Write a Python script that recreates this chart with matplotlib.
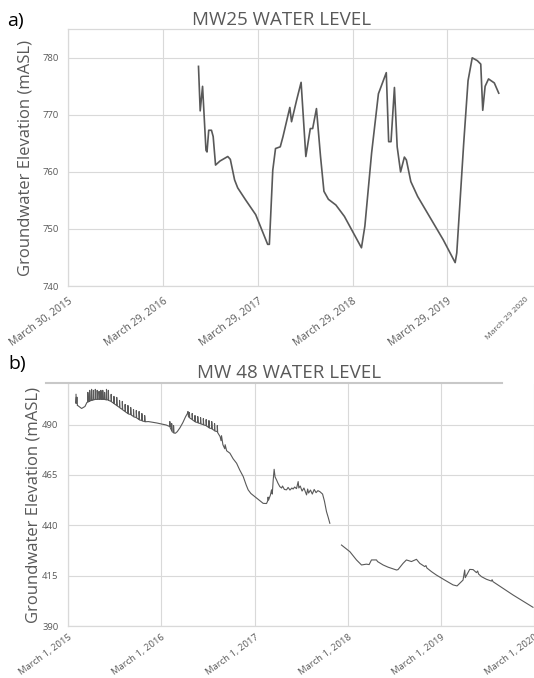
import numpy as np
import matplotlib
matplotlib.use("Agg")
import matplotlib.pyplot as plt
from matplotlib.lines import Line2D

# ---------------- data ----------------
# Panel a: MW25, x in years since March 30, 2015
a_years = [1.374, 1.392, 1.417, 1.453, 1.464, 1.482, 1.511, 1.529, 1.554, 1.600,
           1.683, 1.710, 1.755, 1.788, 1.871, 1.978, 2.104, 2.122, 2.158, 2.187,
           2.237, 2.266, 2.338, 2.356, 2.410, 2.457, 2.507, 2.554, 2.579, 2.619,
           2.662, 2.698, 2.745, 2.824, 2.914, 3.094, 3.130, 3.201, 3.273, 3.356,
           3.381, 3.406, 3.442, 3.471, 3.507, 3.547, 3.568, 3.615, 3.687, 3.957,
           4.083, 4.100, 4.173, 4.219, 4.263, 4.317, 4.353, 4.374, 4.399, 4.435,
           4.496, 4.543]
a_levels = [778.5, 770.7, 775.0, 763.8, 763.5, 767.3, 767.3, 766.2, 761.2, 761.9,
            762.7, 762.2, 758.6, 757.2, 755.1, 752.5, 747.3, 747.3, 760.3, 764.1,
            764.4, 766.2, 771.3, 768.8, 772.6, 775.7, 762.7, 767.6, 767.6, 771.1,
            762.7, 756.6, 755.2, 754.2, 752.2, 746.7, 750.5, 763.3, 773.7, 777.4,
            765.3, 765.3, 774.8, 764.4, 760.0, 762.6, 762.1, 758.3, 755.7, 748.1,
            744.1, 745.8, 765.0, 776.0, 780.0, 779.5, 778.9, 770.8, 775.0, 776.3,
            775.6, 773.8]
a_tick_years = [0, 1, 2, 3, 4]
a_tick_labels = ["March 30, 2015", "March 29, 2016", "March 29, 2017",
                 "March 29, 2018", "March 29, 2019"]
a_extra_label = "March 29 2020"
a_yticks = [740, 750, 760, 770, 780]

# Panel b: MW 48, x in years since March 1, 2015 (NaN = data gap)
b_years = [0.083, 0.083, 0.086, 0.097, 0.097, 0.100, 0.143, 0.179,
           0.200, 0.210, 0.210, 0.214, 0.230, 0.230, 0.234, 0.250, 0.250, 0.254,
           0.270, 0.270, 0.274, 0.290, 0.290, 0.294, 0.310, 0.310, 0.314,
           0.330, 0.330, 0.334, 0.350, 0.350, 0.354, 0.370, 0.370, 0.374,
           0.390, 0.390, 0.394, 0.410, 0.410, 0.414, 0.430, 0.430, 0.434,
           0.460, 0.460, 0.464, 0.490, 0.490, 0.494, 0.520, 0.520, 0.524,
           0.550, 0.550, 0.554, 0.580, 0.580, 0.584, 0.610, 0.610, 0.614,
           0.640, 0.640, 0.644, 0.670, 0.670, 0.674, 0.700, 0.700, 0.704,
           0.730, 0.730, 0.734, 0.760, 0.760, 0.764, 0.790, 0.790, 0.794,
           0.820, 0.820, 0.824, 0.860, 0.900, 0.950, 0.980, 1.050,
           1.090, 1.090, 1.094, 1.110, 1.110, 1.114, 1.130, 1.130, 1.134, 1.150,
           1.170, 1.200, 1.230, 1.260, 1.280, 1.285, 1.290,
           1.300, 1.300, 1.304, 1.330, 1.330, 1.334, 1.360, 1.360, 1.364,
           1.390, 1.390, 1.394, 1.420, 1.420, 1.424, 1.450, 1.450, 1.454,
           1.480, 1.480, 1.484, 1.510, 1.510, 1.514, 1.540, 1.540, 1.544,
           1.570, 1.570, 1.574, 1.600, 1.600, 1.604, 1.630, 1.640, 1.645,
           1.660, 1.680, 1.684, 1.700, 1.735, 1.770, 1.807, 1.840, 1.878,
           1.910, 1.931, 1.960, 2.003, 2.050, 2.092, 2.128, 2.140, 2.145,
           2.150, 2.170, 2.182, 2.190, 2.200, 2.210, 2.220, 2.236, 2.250,
           2.271, 2.290, 2.300, 2.320, 2.343, 2.360, 2.380, 2.400, 2.414,
           2.430, 2.450, 2.468, 2.475, 2.490, 2.510, 2.530, 2.558, 2.570,
           2.580, 2.600, 2.620, 2.640, 2.660, 2.680, 2.701, 2.730, 2.750,
           2.772, 2.790, 2.808,
           2.870,
           2.933, 3.023, 3.094, 3.148, 3.200, 3.230, 3.255, 3.309, 3.320,
           3.380, 3.434, 3.524, 3.540, 3.594, 3.630, 3.684, 3.738, 3.774,
           3.827, 3.840, 3.850, 3.899, 3.952, 4.042, 4.131, 4.174, 4.203,
           4.238, 4.256, 4.262, 4.310, 4.346, 4.382, 4.395, 4.405, 4.436,
           4.489, 4.543, 4.550, 4.560, 4.668, 4.775, 4.989]
b_levels = [505.0, 500.5, 503.5, 503.5, 499.5, 499.5, 498.0, 499.0,
            501.0, 501.2, 506.0, 501.3, 501.6, 507.0, 501.8, 502.0, 507.5, 502.0,
            502.3, 507.0, 502.3, 502.5, 507.5, 502.5, 502.5, 507.0, 502.5,
            502.6, 506.5, 502.6, 502.6, 507.0, 502.6, 502.5, 507.0, 502.5,
            502.5, 506.0, 502.4, 502.3, 507.5, 502.3, 502.2, 507.0, 502.0,
            501.5, 505.0, 501.3, 500.5, 504.0, 500.3, 499.5, 503.5, 499.3,
            498.5, 502.0, 498.3, 497.5, 501.5, 497.3, 496.5, 500.0, 496.3,
            495.5, 499.5, 495.3, 495.0, 498.5, 494.8, 494.0, 497.5, 493.8,
            493.5, 497.0, 493.3, 492.5, 496.5, 492.3, 492.0, 495.5, 491.8,
            491.5, 494.5, 491.4, 491.5, 491.2, 490.8, 490.5, 489.8,
            489.0, 491.5, 488.5, 487.0, 490.5, 486.5, 486.0, 489.5, 485.8, 485.7,
            486.5, 488.5, 491.0, 494.0, 495.6, 496.5, 494.0,
            493.5, 496.0, 493.3, 492.5, 495.5, 492.3, 491.5, 494.5, 491.3,
            491.0, 494.0, 490.8, 490.5, 493.5, 490.3, 490.0, 493.0, 489.8,
            489.5, 492.5, 489.3, 488.5, 492.0, 488.3, 488.0, 491.5, 487.8,
            487.0, 490.5, 486.8, 486.5, 489.5, 486.0, 484.0, 482.0, 484.5,
            480.0, 478.0, 480.0, 477.0, 475.8, 473.0, 470.8, 467.5, 464.2,
            460.0, 457.6, 455.8, 454.2, 452.5, 450.9, 450.8, 452.0, 454.0,
            452.5, 455.0, 457.6, 455.5, 462.5, 467.8, 464.0, 462.5, 461.0,
            459.2, 458.5, 459.5, 457.8, 457.6, 458.8, 457.5, 458.5, 458.0,
            459.0, 458.2, 461.7, 458.5, 459.5, 457.0, 458.5, 455.1, 458.0,
            456.0, 457.5, 455.5, 457.8, 456.2, 457.2, 456.7, 455.5, 452.0,
            446.8, 444.0, 441.0,
            np.nan,
            430.2, 426.9, 422.8, 420.3, 420.7, 420.5, 422.8, 422.8, 422.0,
            420.3, 419.2, 417.8, 418.0, 421.1, 422.8, 422.0, 423.1, 421.1,
            419.5, 420.0, 418.8, 417.0, 415.3, 412.8, 410.4, 409.9, 411.2,
            412.8, 417.8, 414.0, 418.1, 418.0, 416.5, 417.3, 415.8, 414.5,
            413.2, 412.3, 413.0, 412.0, 408.7, 405.4, 399.3]
b_tick_years = [0, 1, 2, 3, 4, 5]
b_tick_labels = ["March 1, 2015", "March 1, 2016", "March 1, 2017",
                 "March 1, 2018", "March 1, 2019", "March 1, 2020"]
b_yticks = [390, 415, 440, 465, 490]

# ---------------- style ----------------
FONT = ["Open Sans", "DejaVu Sans"]
plt.rcParams["font.family"] = FONT
TXT = "#595959"
GRID = "#d9d9d9"
LINE = "#595959"
ROT = 36

W, H = 534, 678
fig = plt.figure(figsize=(W / 100, H / 100), dpi=100)


def px_axes(left, top, right, bottom):
    return fig.add_axes([left / W, 1 - bottom / H, (right - left) / W, (bottom - top) / H])


def style(ax, xsize, xpad):
    ax.grid(True, which="major", color=GRID, linewidth=0.8)
    ax.set_axisbelow(True)
    for s in ["left", "top", "bottom"]:
        ax.spines[s].set_color(GRID)
        ax.spines[s].set_linewidth(0.9)
    ax.spines["right"].set_visible(False)
    ax.tick_params(axis="both", which="both", length=0, labelcolor=TXT)
    ax.tick_params(axis="y", pad=7, labelsize=6.8)
    ax.tick_params(axis="x", which="both", pad=xpad, labelsize=xsize)


# ---- panel a ----
axa = px_axes(68.3, 29.3, 534, 286)
style(axa, 7.5, 7)
axa.plot(a_years, a_levels, color=LINE, linewidth=1.2, solid_joinstyle="round")
axa.set_xlim(0, 4.915)
axa.set_ylim(740, 785)
axa.set_yticks(a_yticks)
axa.set_xticks(a_tick_years)
axa.set_xticklabels(a_tick_labels, rotation=ROT, ha="right", rotation_mode="anchor")
axa.set_xticks([4.82], minor=True)
axa.set_xticklabels([a_extra_label], minor=True, rotation=45, ha="right",
                    rotation_mode="anchor", fontsize=6.0)
axa.set_ylabel("Groundwater Elevation (mASL)", color=TXT, fontsize=12, va="center")
axa.yaxis.set_label_coords(-0.092, 0.5)

# ---- panel b ----
axb = px_axes(68.3, 384.3, 534, 626)
style(axb, 6.8, 5)
axb.spines["top"].set_visible(False)
axb.plot(b_years, b_levels, color=LINE, linewidth=0.8, solid_joinstyle="round")
axb.set_xlim(0, 5.0)
axb.set_ylim(390, 510)
axb.set_yticks(b_yticks)
axb.set_xticks(b_tick_years)
axb.set_xticklabels(b_tick_labels, rotation=ROT, ha="right", rotation_mode="anchor")
axb.set_ylabel("Groundwater Elevation (mASL)", color=TXT, fontsize=12, va="center")
axb.yaxis.set_label_coords(-0.074, 0.5)

# header rule above panel b
fig.add_artist(Line2D([46 / W, 502 / W], [1 - 382.7 / H, 1 - 382.7 / H],
                      transform=fig.transFigure, color="#c8c8c8", linewidth=1.5))

# titles and panel letters
fig.text(282 / W, 1 - 25 / H, "MW25 WATER LEVEL", ha="center", va="baseline",
         fontsize=13.5, color=TXT)
fig.text(289.5 / W, 1 - 378.3 / H, "MW 48 WATER LEVEL", ha="center", va="baseline",
         fontsize=13.5, color=TXT)
fig.text(6.7 / W, 1 - 26 / H, "a)", ha="left", va="baseline", fontsize=14, color="black")
fig.text(8.5 / W, 1 - 369 / H, "b)", ha="left", va="baseline", fontsize=14, color="black")

fig.savefig("out.png", dpi=100)
